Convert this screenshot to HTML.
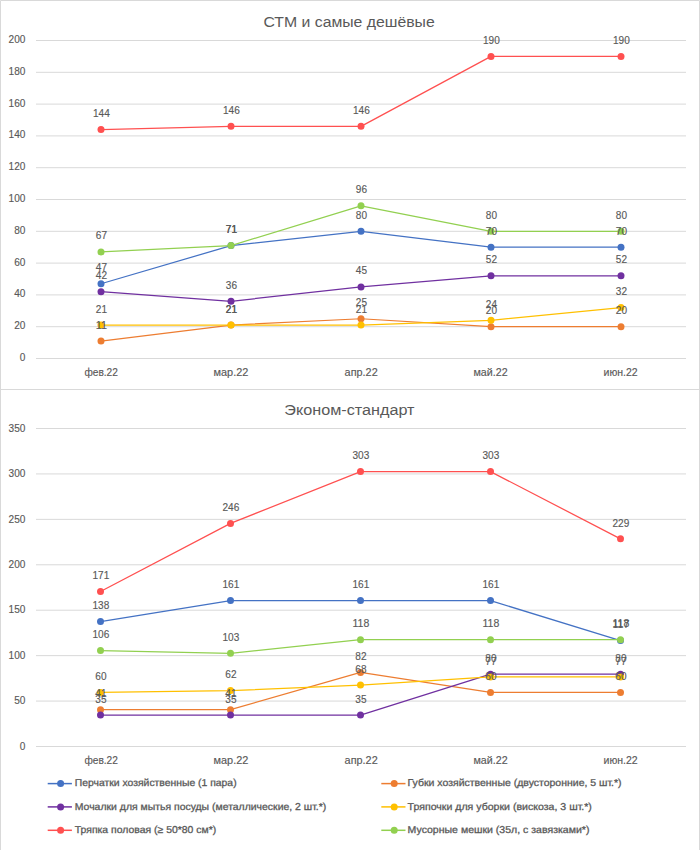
<!DOCTYPE html>
<html><head><meta charset="utf-8"><title>СТМ и самые дешёвые / Эконом-стандарт</title>
<style>
html,body{margin:0;padding:0;background:#fff;width:700px;height:850px;overflow:hidden}
svg{display:block}
.n{font-family:"Liberation Sans",Arial,sans-serif;font-size:11px;fill:#595959;stroke:#595959;stroke-width:0.15px}
.l{font-size:10px;text-rendering:geometricPrecision;stroke-width:0.3px}
.t{font-family:"Liberation Sans",Arial,sans-serif;font-size:15.5px;fill:#595959}
</style></head><body>
<svg width="700" height="850" viewBox="0 0 700 850">
<rect x="0" y="0" width="700" height="850" fill="#fff"/>
<path d="M0.5 850V0.5H699.5V850 M0 389.5H700" fill="none" stroke="#D9D9D9" stroke-width="1"/>
<line x1="36" x2="686" y1="358.50" y2="358.50" stroke="#D9D9D9" stroke-width="1"/>
<text x="25.4" y="361.00" text-anchor="end" class="n" textLength="5.60" lengthAdjust="spacingAndGlyphs">0</text>
<line x1="36" x2="686" y1="326.70" y2="326.70" stroke="#D9D9D9" stroke-width="1"/>
<text x="25.4" y="329.20" text-anchor="end" class="n" textLength="11.20" lengthAdjust="spacingAndGlyphs">20</text>
<line x1="36" x2="686" y1="294.90" y2="294.90" stroke="#D9D9D9" stroke-width="1"/>
<text x="25.4" y="297.40" text-anchor="end" class="n" textLength="11.20" lengthAdjust="spacingAndGlyphs">40</text>
<line x1="36" x2="686" y1="263.10" y2="263.10" stroke="#D9D9D9" stroke-width="1"/>
<text x="25.4" y="265.60" text-anchor="end" class="n" textLength="11.20" lengthAdjust="spacingAndGlyphs">60</text>
<line x1="36" x2="686" y1="231.30" y2="231.30" stroke="#D9D9D9" stroke-width="1"/>
<text x="25.4" y="233.80" text-anchor="end" class="n" textLength="11.20" lengthAdjust="spacingAndGlyphs">80</text>
<line x1="36" x2="686" y1="199.50" y2="199.50" stroke="#D9D9D9" stroke-width="1"/>
<text x="25.4" y="202.00" text-anchor="end" class="n" textLength="16.80" lengthAdjust="spacingAndGlyphs">100</text>
<line x1="36" x2="686" y1="167.70" y2="167.70" stroke="#D9D9D9" stroke-width="1"/>
<text x="25.4" y="170.20" text-anchor="end" class="n" textLength="16.80" lengthAdjust="spacingAndGlyphs">120</text>
<line x1="36" x2="686" y1="135.90" y2="135.90" stroke="#D9D9D9" stroke-width="1"/>
<text x="25.4" y="138.40" text-anchor="end" class="n" textLength="16.80" lengthAdjust="spacingAndGlyphs">140</text>
<line x1="36" x2="686" y1="104.10" y2="104.10" stroke="#D9D9D9" stroke-width="1"/>
<text x="25.4" y="106.60" text-anchor="end" class="n" textLength="16.80" lengthAdjust="spacingAndGlyphs">160</text>
<line x1="36" x2="686" y1="72.30" y2="72.30" stroke="#D9D9D9" stroke-width="1"/>
<text x="25.4" y="74.80" text-anchor="end" class="n" textLength="16.80" lengthAdjust="spacingAndGlyphs">180</text>
<line x1="36" x2="686" y1="40.50" y2="40.50" stroke="#D9D9D9" stroke-width="1"/>
<text x="25.4" y="43.00" text-anchor="end" class="n" textLength="16.80" lengthAdjust="spacingAndGlyphs">200</text>
<text x="263.50" y="27" class="t" textLength="171.20" lengthAdjust="spacingAndGlyphs">СТМ и самые дешёвые</text>
<text x="84.40" y="376.00" class="n" textLength="33.50" lengthAdjust="spacingAndGlyphs">фев.22</text>
<text x="213.50" y="376.00" class="n" textLength="34.80" lengthAdjust="spacingAndGlyphs">мар.22</text>
<text x="344.60" y="376.00" class="n" textLength="33.10" lengthAdjust="spacingAndGlyphs">апр.22</text>
<text x="473.50" y="376.00" class="n" textLength="34.20" lengthAdjust="spacingAndGlyphs">май.22</text>
<text x="603.50" y="376.00" class="n" textLength="34.20" lengthAdjust="spacingAndGlyphs">июн.22</text>
<polyline points="101.00,283.77 231.00,245.61 361.00,231.30 491.00,247.20 621.00,247.20" fill="none" stroke="#4472C4" stroke-width="1.25" stroke-linejoin="round"/>
<circle cx="101.00" cy="283.77" r="3.5" fill="#4472C4"/>
<circle cx="231.00" cy="245.61" r="3.5" fill="#4472C4"/>
<circle cx="361.00" cy="231.30" r="3.5" fill="#4472C4"/>
<circle cx="491.00" cy="247.20" r="3.5" fill="#4472C4"/>
<circle cx="621.00" cy="247.20" r="3.5" fill="#4472C4"/>
<polyline points="101.00,341.01 231.00,325.11 361.00,318.75 491.00,326.70 621.00,326.70" fill="none" stroke="#ED7D31" stroke-width="1.25" stroke-linejoin="round"/>
<circle cx="101.00" cy="341.01" r="3.5" fill="#ED7D31"/>
<circle cx="231.00" cy="325.11" r="3.5" fill="#ED7D31"/>
<circle cx="361.00" cy="318.75" r="3.5" fill="#ED7D31"/>
<circle cx="491.00" cy="326.70" r="3.5" fill="#ED7D31"/>
<circle cx="621.00" cy="326.70" r="3.5" fill="#ED7D31"/>
<polyline points="101.00,291.72 231.00,301.26 361.00,286.95 491.00,275.82 621.00,275.82" fill="none" stroke="#7030A0" stroke-width="1.25" stroke-linejoin="round"/>
<circle cx="101.00" cy="291.72" r="3.5" fill="#7030A0"/>
<circle cx="231.00" cy="301.26" r="3.5" fill="#7030A0"/>
<circle cx="361.00" cy="286.95" r="3.5" fill="#7030A0"/>
<circle cx="491.00" cy="275.82" r="3.5" fill="#7030A0"/>
<circle cx="621.00" cy="275.82" r="3.5" fill="#7030A0"/>
<polyline points="101.00,325.11 231.00,325.11 361.00,325.11 491.00,320.34 621.00,307.62" fill="none" stroke="#FFC000" stroke-width="1.25" stroke-linejoin="round"/>
<circle cx="101.00" cy="325.11" r="3.5" fill="#FFC000"/>
<circle cx="231.00" cy="325.11" r="3.5" fill="#FFC000"/>
<circle cx="361.00" cy="325.11" r="3.5" fill="#FFC000"/>
<circle cx="491.00" cy="320.34" r="3.5" fill="#FFC000"/>
<circle cx="621.00" cy="307.62" r="3.5" fill="#FFC000"/>
<polyline points="101.00,129.54 231.00,126.36 361.00,126.36 491.00,56.40 621.00,56.40" fill="none" stroke="#FF5050" stroke-width="1.25" stroke-linejoin="round"/>
<circle cx="101.00" cy="129.54" r="3.5" fill="#FF5050"/>
<circle cx="231.00" cy="126.36" r="3.5" fill="#FF5050"/>
<circle cx="361.00" cy="126.36" r="3.5" fill="#FF5050"/>
<circle cx="491.00" cy="56.40" r="3.5" fill="#FF5050"/>
<circle cx="621.00" cy="56.40" r="3.5" fill="#FF5050"/>
<polyline points="101.00,251.97 231.00,245.61 361.00,205.86 491.00,231.30 621.00,231.30" fill="none" stroke="#92D050" stroke-width="1.25" stroke-linejoin="round"/>
<circle cx="101.00" cy="251.97" r="3.5" fill="#92D050"/>
<circle cx="231.00" cy="245.61" r="3.5" fill="#92D050"/>
<circle cx="361.00" cy="205.86" r="3.5" fill="#92D050"/>
<circle cx="491.00" cy="231.30" r="3.5" fill="#92D050"/>
<circle cx="621.00" cy="231.30" r="3.5" fill="#92D050"/>
<text x="101.40" y="271.27" text-anchor="middle" class="n" textLength="11.20" lengthAdjust="spacingAndGlyphs">47</text>
<text x="231.40" y="233.11" text-anchor="middle" class="n" textLength="11.20" lengthAdjust="spacingAndGlyphs">71</text>
<text x="361.40" y="218.80" text-anchor="middle" class="n" textLength="11.20" lengthAdjust="spacingAndGlyphs">80</text>
<text x="491.40" y="234.70" text-anchor="middle" class="n" textLength="11.20" lengthAdjust="spacingAndGlyphs">70</text>
<text x="621.40" y="234.70" text-anchor="middle" class="n" textLength="11.20" lengthAdjust="spacingAndGlyphs">70</text>
<text x="101.40" y="328.51" text-anchor="middle" class="n" textLength="11.20" lengthAdjust="spacingAndGlyphs">11</text>
<text x="231.40" y="312.61" text-anchor="middle" class="n" textLength="11.20" lengthAdjust="spacingAndGlyphs">21</text>
<text x="361.40" y="306.25" text-anchor="middle" class="n" textLength="11.20" lengthAdjust="spacingAndGlyphs">25</text>
<text x="491.40" y="314.20" text-anchor="middle" class="n" textLength="11.20" lengthAdjust="spacingAndGlyphs">20</text>
<text x="621.40" y="314.20" text-anchor="middle" class="n" textLength="11.20" lengthAdjust="spacingAndGlyphs">20</text>
<text x="101.40" y="279.22" text-anchor="middle" class="n" textLength="11.20" lengthAdjust="spacingAndGlyphs">42</text>
<text x="231.40" y="288.76" text-anchor="middle" class="n" textLength="11.20" lengthAdjust="spacingAndGlyphs">36</text>
<text x="361.40" y="274.45" text-anchor="middle" class="n" textLength="11.20" lengthAdjust="spacingAndGlyphs">45</text>
<text x="491.40" y="263.32" text-anchor="middle" class="n" textLength="11.20" lengthAdjust="spacingAndGlyphs">52</text>
<text x="621.40" y="263.32" text-anchor="middle" class="n" textLength="11.20" lengthAdjust="spacingAndGlyphs">52</text>
<text x="101.40" y="312.61" text-anchor="middle" class="n" textLength="11.20" lengthAdjust="spacingAndGlyphs">21</text>
<text x="231.40" y="312.61" text-anchor="middle" class="n" textLength="11.20" lengthAdjust="spacingAndGlyphs">21</text>
<text x="361.40" y="312.61" text-anchor="middle" class="n" textLength="11.20" lengthAdjust="spacingAndGlyphs">21</text>
<text x="491.40" y="307.84" text-anchor="middle" class="n" textLength="11.20" lengthAdjust="spacingAndGlyphs">24</text>
<text x="621.40" y="295.12" text-anchor="middle" class="n" textLength="11.20" lengthAdjust="spacingAndGlyphs">32</text>
<text x="101.40" y="117.04" text-anchor="middle" class="n" textLength="16.80" lengthAdjust="spacingAndGlyphs">144</text>
<text x="231.40" y="113.86" text-anchor="middle" class="n" textLength="16.80" lengthAdjust="spacingAndGlyphs">146</text>
<text x="361.40" y="113.86" text-anchor="middle" class="n" textLength="16.80" lengthAdjust="spacingAndGlyphs">146</text>
<text x="491.40" y="43.90" text-anchor="middle" class="n" textLength="16.80" lengthAdjust="spacingAndGlyphs">190</text>
<text x="621.40" y="43.90" text-anchor="middle" class="n" textLength="16.80" lengthAdjust="spacingAndGlyphs">190</text>
<text x="101.40" y="239.47" text-anchor="middle" class="n" textLength="11.20" lengthAdjust="spacingAndGlyphs">67</text>
<text x="231.40" y="233.11" text-anchor="middle" class="n" textLength="11.20" lengthAdjust="spacingAndGlyphs">71</text>
<text x="361.40" y="193.36" text-anchor="middle" class="n" textLength="11.20" lengthAdjust="spacingAndGlyphs">96</text>
<text x="491.40" y="218.80" text-anchor="middle" class="n" textLength="11.20" lengthAdjust="spacingAndGlyphs">80</text>
<text x="621.40" y="218.80" text-anchor="middle" class="n" textLength="11.20" lengthAdjust="spacingAndGlyphs">80</text>
<line x1="36" x2="686" y1="746.50" y2="746.50" stroke="#D9D9D9" stroke-width="1"/>
<text x="25.4" y="749.70" text-anchor="end" class="n" textLength="5.60" lengthAdjust="spacingAndGlyphs">0</text>
<line x1="36" x2="686" y1="701.07" y2="701.07" stroke="#D9D9D9" stroke-width="1"/>
<text x="25.4" y="704.27" text-anchor="end" class="n" textLength="11.20" lengthAdjust="spacingAndGlyphs">50</text>
<line x1="36" x2="686" y1="655.64" y2="655.64" stroke="#D9D9D9" stroke-width="1"/>
<text x="25.4" y="658.84" text-anchor="end" class="n" textLength="16.80" lengthAdjust="spacingAndGlyphs">100</text>
<line x1="36" x2="686" y1="610.21" y2="610.21" stroke="#D9D9D9" stroke-width="1"/>
<text x="25.4" y="613.41" text-anchor="end" class="n" textLength="16.80" lengthAdjust="spacingAndGlyphs">150</text>
<line x1="36" x2="686" y1="564.79" y2="564.79" stroke="#D9D9D9" stroke-width="1"/>
<text x="25.4" y="567.99" text-anchor="end" class="n" textLength="16.80" lengthAdjust="spacingAndGlyphs">200</text>
<line x1="36" x2="686" y1="519.36" y2="519.36" stroke="#D9D9D9" stroke-width="1"/>
<text x="25.4" y="522.56" text-anchor="end" class="n" textLength="16.80" lengthAdjust="spacingAndGlyphs">250</text>
<line x1="36" x2="686" y1="473.93" y2="473.93" stroke="#D9D9D9" stroke-width="1"/>
<text x="25.4" y="477.13" text-anchor="end" class="n" textLength="16.80" lengthAdjust="spacingAndGlyphs">300</text>
<line x1="36" x2="686" y1="428.50" y2="428.50" stroke="#D9D9D9" stroke-width="1"/>
<text x="25.4" y="431.70" text-anchor="end" class="n" textLength="16.80" lengthAdjust="spacingAndGlyphs">350</text>
<text x="284.30" y="415" class="t" textLength="130.20" lengthAdjust="spacingAndGlyphs">Эконом-стандарт</text>
<text x="84.40" y="764.00" class="n" textLength="33.50" lengthAdjust="spacingAndGlyphs">фев.22</text>
<text x="213.50" y="764.00" class="n" textLength="34.80" lengthAdjust="spacingAndGlyphs">мар.22</text>
<text x="344.60" y="764.00" class="n" textLength="33.10" lengthAdjust="spacingAndGlyphs">апр.22</text>
<text x="473.50" y="764.00" class="n" textLength="34.20" lengthAdjust="spacingAndGlyphs">май.22</text>
<text x="603.50" y="764.00" class="n" textLength="34.20" lengthAdjust="spacingAndGlyphs">июн.22</text>
<polyline points="100.50,621.52 230.50,600.62 360.50,600.62 490.50,600.62 620.50,640.60" fill="none" stroke="#4472C4" stroke-width="1.25" stroke-linejoin="round"/>
<circle cx="100.50" cy="621.52" r="3.5" fill="#4472C4"/>
<circle cx="230.50" cy="600.62" r="3.5" fill="#4472C4"/>
<circle cx="360.50" cy="600.62" r="3.5" fill="#4472C4"/>
<circle cx="490.50" cy="600.62" r="3.5" fill="#4472C4"/>
<circle cx="620.50" cy="640.60" r="3.5" fill="#4472C4"/>
<polyline points="100.50,709.65 230.50,709.65 360.50,672.40 490.50,692.39 620.50,692.39" fill="none" stroke="#ED7D31" stroke-width="1.25" stroke-linejoin="round"/>
<circle cx="100.50" cy="709.65" r="3.5" fill="#ED7D31"/>
<circle cx="230.50" cy="709.65" r="3.5" fill="#ED7D31"/>
<circle cx="360.50" cy="672.40" r="3.5" fill="#ED7D31"/>
<circle cx="490.50" cy="692.39" r="3.5" fill="#ED7D31"/>
<circle cx="620.50" cy="692.39" r="3.5" fill="#ED7D31"/>
<polyline points="100.50,715.10 230.50,715.10 360.50,715.10 490.50,674.21 620.50,674.21" fill="none" stroke="#7030A0" stroke-width="1.25" stroke-linejoin="round"/>
<circle cx="100.50" cy="715.10" r="3.5" fill="#7030A0"/>
<circle cx="230.50" cy="715.10" r="3.5" fill="#7030A0"/>
<circle cx="360.50" cy="715.10" r="3.5" fill="#7030A0"/>
<circle cx="490.50" cy="674.21" r="3.5" fill="#7030A0"/>
<circle cx="620.50" cy="674.21" r="3.5" fill="#7030A0"/>
<polyline points="100.50,692.39 230.50,690.57 360.50,685.12 490.50,676.94 620.50,676.94" fill="none" stroke="#FFC000" stroke-width="1.25" stroke-linejoin="round"/>
<circle cx="100.50" cy="692.39" r="3.5" fill="#FFC000"/>
<circle cx="230.50" cy="690.57" r="3.5" fill="#FFC000"/>
<circle cx="360.50" cy="685.12" r="3.5" fill="#FFC000"/>
<circle cx="490.50" cy="676.94" r="3.5" fill="#FFC000"/>
<circle cx="620.50" cy="676.94" r="3.5" fill="#FFC000"/>
<polyline points="100.50,591.53 230.50,523.39 360.50,471.60 490.50,471.60 620.50,538.84" fill="none" stroke="#FF5050" stroke-width="1.25" stroke-linejoin="round"/>
<circle cx="100.50" cy="591.53" r="3.5" fill="#FF5050"/>
<circle cx="230.50" cy="523.39" r="3.5" fill="#FF5050"/>
<circle cx="360.50" cy="471.60" r="3.5" fill="#FF5050"/>
<circle cx="490.50" cy="471.60" r="3.5" fill="#FF5050"/>
<circle cx="620.50" cy="538.84" r="3.5" fill="#FF5050"/>
<polyline points="100.50,650.59 230.50,653.32 360.50,639.69 490.50,639.69 620.50,639.69" fill="none" stroke="#92D050" stroke-width="1.25" stroke-linejoin="round"/>
<circle cx="100.50" cy="650.59" r="3.5" fill="#92D050"/>
<circle cx="230.50" cy="653.32" r="3.5" fill="#92D050"/>
<circle cx="360.50" cy="639.69" r="3.5" fill="#92D050"/>
<circle cx="490.50" cy="639.69" r="3.5" fill="#92D050"/>
<circle cx="620.50" cy="639.69" r="3.5" fill="#92D050"/>
<text x="100.90" y="609.32" text-anchor="middle" class="n" textLength="16.80" lengthAdjust="spacingAndGlyphs">138</text>
<text x="230.90" y="588.42" text-anchor="middle" class="n" textLength="16.80" lengthAdjust="spacingAndGlyphs">161</text>
<text x="360.90" y="588.42" text-anchor="middle" class="n" textLength="16.80" lengthAdjust="spacingAndGlyphs">161</text>
<text x="490.90" y="588.42" text-anchor="middle" class="n" textLength="16.80" lengthAdjust="spacingAndGlyphs">161</text>
<text x="620.90" y="628.40" text-anchor="middle" class="n" textLength="16.80" lengthAdjust="spacingAndGlyphs">117</text>
<text x="100.90" y="697.45" text-anchor="middle" class="n" textLength="11.20" lengthAdjust="spacingAndGlyphs">41</text>
<text x="230.90" y="697.45" text-anchor="middle" class="n" textLength="11.20" lengthAdjust="spacingAndGlyphs">41</text>
<text x="360.90" y="660.20" text-anchor="middle" class="n" textLength="11.20" lengthAdjust="spacingAndGlyphs">82</text>
<text x="490.90" y="680.19" text-anchor="middle" class="n" textLength="11.20" lengthAdjust="spacingAndGlyphs">60</text>
<text x="620.90" y="680.19" text-anchor="middle" class="n" textLength="11.20" lengthAdjust="spacingAndGlyphs">60</text>
<text x="100.90" y="702.90" text-anchor="middle" class="n" textLength="11.20" lengthAdjust="spacingAndGlyphs">35</text>
<text x="230.90" y="702.90" text-anchor="middle" class="n" textLength="11.20" lengthAdjust="spacingAndGlyphs">35</text>
<text x="360.90" y="702.90" text-anchor="middle" class="n" textLength="11.20" lengthAdjust="spacingAndGlyphs">35</text>
<text x="490.90" y="662.01" text-anchor="middle" class="n" textLength="11.20" lengthAdjust="spacingAndGlyphs">80</text>
<text x="620.90" y="662.01" text-anchor="middle" class="n" textLength="11.20" lengthAdjust="spacingAndGlyphs">80</text>
<text x="100.90" y="680.19" text-anchor="middle" class="n" textLength="11.20" lengthAdjust="spacingAndGlyphs">60</text>
<text x="230.90" y="678.37" text-anchor="middle" class="n" textLength="11.20" lengthAdjust="spacingAndGlyphs">62</text>
<text x="360.90" y="672.92" text-anchor="middle" class="n" textLength="11.20" lengthAdjust="spacingAndGlyphs">68</text>
<text x="490.90" y="664.74" text-anchor="middle" class="n" textLength="11.20" lengthAdjust="spacingAndGlyphs">77</text>
<text x="620.90" y="664.74" text-anchor="middle" class="n" textLength="11.20" lengthAdjust="spacingAndGlyphs">77</text>
<text x="100.90" y="579.33" text-anchor="middle" class="n" textLength="16.80" lengthAdjust="spacingAndGlyphs">171</text>
<text x="230.90" y="511.19" text-anchor="middle" class="n" textLength="16.80" lengthAdjust="spacingAndGlyphs">246</text>
<text x="360.90" y="459.40" text-anchor="middle" class="n" textLength="16.80" lengthAdjust="spacingAndGlyphs">303</text>
<text x="490.90" y="459.40" text-anchor="middle" class="n" textLength="16.80" lengthAdjust="spacingAndGlyphs">303</text>
<text x="620.90" y="526.64" text-anchor="middle" class="n" textLength="16.80" lengthAdjust="spacingAndGlyphs">229</text>
<text x="100.90" y="638.39" text-anchor="middle" class="n" textLength="16.80" lengthAdjust="spacingAndGlyphs">106</text>
<text x="230.90" y="641.12" text-anchor="middle" class="n" textLength="16.80" lengthAdjust="spacingAndGlyphs">103</text>
<text x="360.90" y="627.49" text-anchor="middle" class="n" textLength="16.80" lengthAdjust="spacingAndGlyphs">118</text>
<text x="490.90" y="627.49" text-anchor="middle" class="n" textLength="16.80" lengthAdjust="spacingAndGlyphs">118</text>
<text x="620.90" y="627.49" text-anchor="middle" class="n" textLength="16.80" lengthAdjust="spacingAndGlyphs">118</text>
<line x1="47.7" x2="71.9" y1="783.6" y2="783.6" stroke="#4472C4" stroke-width="1.5"/>
<circle cx="60.60" cy="783.6" r="3.5" fill="#4472C4"/>
<text x="74.80" y="786.4" class="n l" textLength="161.80" lengthAdjust="spacingAndGlyphs">Перчатки хозяйственные (1 пара)</text>
<line x1="381.3" x2="405.5" y1="783.6" y2="783.6" stroke="#ED7D31" stroke-width="1.5"/>
<circle cx="394.20" cy="783.6" r="3.5" fill="#ED7D31"/>
<text x="407.60" y="786.4" class="n l" textLength="214.00" lengthAdjust="spacingAndGlyphs">Губки хозяйственные (двусторонние, 5 шт.*)</text>
<line x1="47.7" x2="71.9" y1="806.9" y2="806.9" stroke="#7030A0" stroke-width="1.5"/>
<circle cx="60.60" cy="806.9" r="3.5" fill="#7030A0"/>
<text x="74.80" y="809.9" class="n l" textLength="251.40" lengthAdjust="spacingAndGlyphs">Мочалки для мытья посуды (металлические, 2 шт.*)</text>
<line x1="381.3" x2="405.5" y1="806.9" y2="806.9" stroke="#FFC000" stroke-width="1.5"/>
<circle cx="394.20" cy="806.9" r="3.5" fill="#FFC000"/>
<text x="407.60" y="809.9" class="n l" textLength="184.30" lengthAdjust="spacingAndGlyphs">Тряпочки для уборки (вискоза, 3 шт.*)</text>
<line x1="47.7" x2="71.9" y1="830.3" y2="830.3" stroke="#FF5050" stroke-width="1.5"/>
<circle cx="60.60" cy="830.3" r="3.5" fill="#FF5050"/>
<text x="74.80" y="832.9" class="n l" textLength="141.40" lengthAdjust="spacingAndGlyphs">Тряпка половая (≥ 50*80 см*)</text>
<line x1="381.3" x2="405.5" y1="830.3" y2="830.3" stroke="#92D050" stroke-width="1.5"/>
<circle cx="394.20" cy="830.3" r="3.5" fill="#92D050"/>
<text x="407.60" y="832.9" class="n l" textLength="181.80" lengthAdjust="spacingAndGlyphs">Мусорные мешки (35л, с завязками*)</text>
</svg>
</body></html>
